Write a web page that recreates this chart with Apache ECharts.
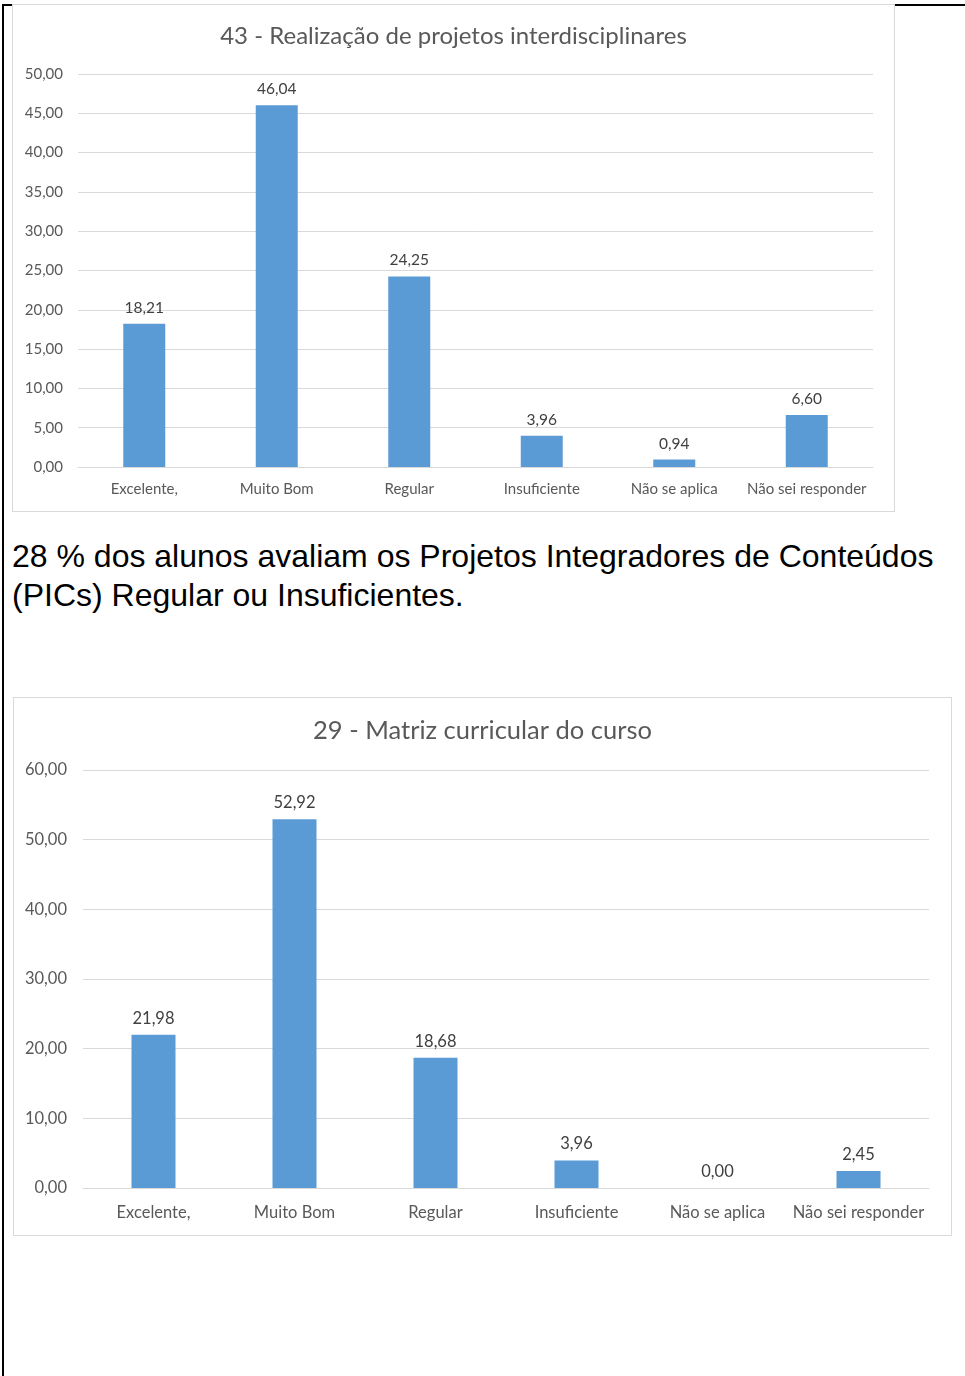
<!DOCTYPE html>
<html>
<head>
<meta charset="utf-8">
<script src="https://cdn.jsdelivr.net/npm/echarts@6/dist/echarts.min.js"></script>
<style>
  html, body { margin: 0; padding: 0; background: #fff; }
  body { width: 965px; height: 1376px; position: relative; overflow: hidden; }
  .rule { position: absolute; background: #000; }
  .box { position: absolute; border: 1px solid #d9d9d9; box-sizing: content-box; }
  #txt {
    position: absolute; left: 12px; top: 537px; width: 950px;
    font-family: "Liberation Sans", Arial, sans-serif; font-size: 32px;
    line-height: 39px; color: #000;
  }
</style>
</head>
<body>
<div class="rule" style="left:2px;top:4px;width:2px;height:1372px"></div>
<div class="rule" style="left:2px;top:4px;width:963px;height:2px"></div>

<div id="c1" class="box" style="left:12px;top:4px;width:881px;height:506px"></div>
<div id="txt">28 % dos alunos avaliam os Projetos Integradores de Conteúdos (PICs) Regular ou Insuficientes.</div>
<div id="c2" class="box" style="left:13px;top:697px;width:937px;height:537px"></div>

<script>
const categories = ["Excelente,", "Muito Bom", "Regular", "Insuficiente", "Não se aplica", "Não sei responder"];

const title1 = "43 - Realização de projetos interdisciplinares";
const values1 = [18.21, 46.04, 24.25, 3.96, 0.94, 6.60];

const title2 = "29 - Matriz curricular do curso";
const values2 = [21.98, 52.92, 18.68, 3.96, 0.00, 2.45];

const FONT = "Lato, 'Open Sans', sans-serif";

function fmt(v) {
    return Number(v).toFixed(2).replace(".", ",");
}

function makeChart(id, title, values, o) {
    const chart = echarts.init(document.getElementById(id));
    chart.setOption({
        backgroundColor: "#fff",
        animation: false,
        title: {
            text: title,
            left: "center",
            top: o.titleTop,
            textStyle: { color: "#595959", fontSize: o.titleSize, fontWeight: "normal", fontFamily: FONT }
        },
        grid: { left: o.left, top: o.top, width: o.width, height: o.height },
        xAxis: {
            type: "category",
            data: categories,
            axisLine: { lineStyle: { color: "#d9d9d9", width: 1 } },
            axisTick: { show: false },
            axisLabel: { color: "#595959", fontSize: o.fontSize, fontFamily: FONT, margin: o.xMargin, interval: 0 }
        },
        yAxis: {
            type: "value",
            min: 0,
            max: o.max,
            interval: o.step,
            axisLine: { show: false },
            axisTick: { show: false },
            splitLine: { lineStyle: { color: "#d9d9d9", width: 1 } },
            axisLabel: { color: "#595959", fontSize: o.fontSize, fontFamily: FONT, margin: o.yMargin, formatter: fmt }
        },
        series: [{
            type: "bar",
            data: values,
            barWidth: o.barWidth,
            itemStyle: { color: "#5b9bd5" },
            label: {
                show: true,
                position: "top",
                distance: o.labelDist,
                color: "#404040",
                fontSize: o.labelSize,
                fontFamily: FONT,
                formatter: p => fmt(p.value)
            }
        }]
    });
    return chart;
}

makeChart("c1", title1, values1, {
    titleTop: 14, titleSize: 24,
    left: 65, top: 69, width: 795, height: 393,
    max: 50, step: 5, fontSize: 15, labelSize: 15.5, xMargin: 15, yMargin: 15,
    barWidth: 42, labelDist: 8
});

makeChart("c2", title2, values2, {
    titleTop: 15, titleSize: 25.5,
    left: 69, top: 72, width: 846, height: 418,
    max: 60, step: 10, fontSize: 16.5, labelSize: 16.5, xMargin: 16, yMargin: 16,
    barWidth: 44, labelDist: 8
});
</script>
</body>
</html>
